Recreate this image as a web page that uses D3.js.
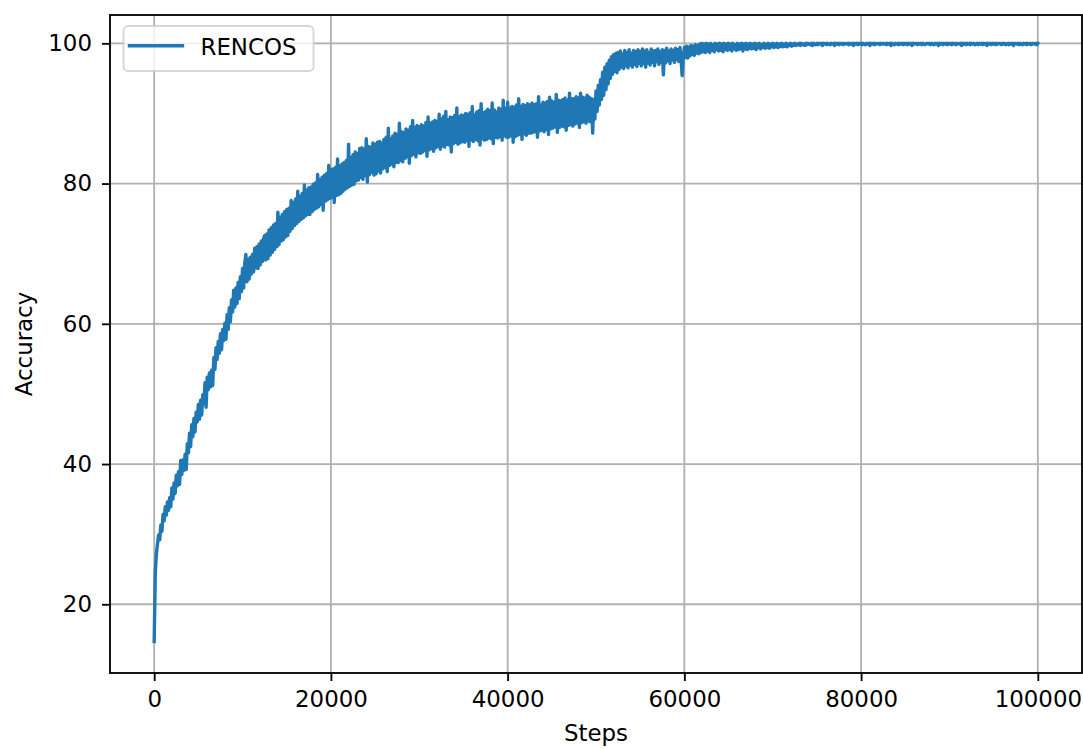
<!DOCTYPE html>
<html>
<head>
<meta charset="utf-8">
<script src="https://cdn.jsdelivr.net/npm/d3@7"></script>
<style>
  html, body { margin: 0; padding: 0; background: #ffffff; }
  svg { display: block; font-family: "DejaVu Sans", sans-serif; }
</style>
</head>
<body>
<svg id="chart" width="1083" height="749"></svg>
<script>
// Training accuracy, logged every 125 steps
const logInterval = 125;
const seriesName = "RENCOS";
const xTicks = [0, 20000, 40000, 60000, 80000, 100000];
const yTicks = [20, 40, 60, 80, 100];
const xLabel = "Steps";
const yLabel = "Accuracy";

const accuracy = [
  14.7, 24.5, 27.2, 28.6, 29.9, 29.2, 31.3, 30.4, 32.8, 31.9, 33.9, 32.7, 34.6, 33.4, 35.2, 33.9, 36.6, 35.0, 37.3, 35.8,
  38.4, 36.9, 38.9, 37.1, 40.5, 38.5, 40.6, 39.1, 41.4, 39.2, 42.9, 41.6, 44.4, 42.5, 45.6, 43.9, 46.5, 44.6, 47.4, 46.0,
  48.5, 46.4, 49.1, 47.0, 49.9, 48.6, 51.6, 48.1, 52.4, 50.6, 53.0, 51.0, 53.4, 51.2, 55.2, 53.5, 56.6, 54.9, 57.5, 55.8,
  58.6, 56.3, 59.2, 57.6, 60.1, 57.8, 61.3, 59.2, 62.3, 60.3, 63.4, 61.7, 64.8, 62.4, 65.1, 62.9, 65.9, 63.6, 66.7, 64.6,
  67.9, 65.1, 68.6, 69.9, 66.0, 69.2, 66.4, 69.5, 67.1, 69.9, 67.4, 70.8, 68.0, 71.0, 67.9, 71.4, 68.4, 71.8, 68.9, 72.1,
  72.6, 69.1, 72.8, 69.3, 73.4, 69.8, 73.7, 70.2, 74.1, 70.6, 74.3, 71.0, 75.9, 71.3, 75.2, 71.8, 75.6, 72.0, 76.0, 72.4,
  76.3, 72.6, 76.5, 73.2, 77.6, 73.6, 77.3, 74.0, 77.8, 74.3, 78.9, 74.6, 78.2, 74.9, 78.6, 75.1, 79.8, 75.4, 79.1, 75.6,
  79.4, 75.6, 79.5, 76.0, 79.9, 76.3, 80.1, 76.5, 81.3, 76.7, 80.6, 77.0, 80.9, 76.2, 81.2, 77.5, 81.4, 77.7, 82.6, 77.9,
  82.0, 78.0, 82.1, 77.3, 82.3, 78.3, 83.5, 78.4, 82.5, 78.6, 82.8, 78.9, 83.0, 79.2, 83.3, 79.4, 85.6, 79.6, 83.7, 79.8,
  84.1, 79.9, 84.5, 80.4, 84.3, 80.5, 85.0, 80.9, 85.1, 80.6, 84.9, 81.1, 86.4, 80.2, 85.3, 81.3, 85.2, 81.6, 85.8, 81.2,
  85.6, 81.4, 85.9, 81.8, 86.0, 81.5, 85.8, 82.1, 86.3, 82.3, 86.6, 81.7, 87.9, 82.6, 86.4, 82.8, 86.8, 82.4, 87.2, 83.0,
  87.0, 83.0, 88.6, 83.3, 87.4, 83.1, 87.3, 83.6, 87.8, 83.8, 87.6, 82.9, 88.1, 84.0, 89.0, 84.2, 88.0, 83.8, 88.3, 84.4,
  88.1, 84.3, 88.4, 84.5, 88.2, 84.7, 88.7, 83.9, 89.5, 84.8, 88.6, 85.0, 88.8, 84.6, 89.0, 85.1, 88.9, 85.3, 89.9, 84.9,
  89.2, 85.4, 89.6, 85.2, 90.3, 85.6, 89.1, 85.5, 89.5, 84.5, 89.4, 85.7, 89.7, 85.9, 90.8, 85.6, 89.5, 85.8, 89.8, 86.0,
  89.7, 85.9, 90.0, 86.1, 89.9, 85.3, 90.1, 86.2, 91.0, 86.0, 89.8, 86.3, 90.2, 86.1, 90.4, 85.5, 91.4, 86.4, 90.1, 86.2,
  90.3, 86.3, 90.6, 86.5, 90.4, 86.4, 91.5, 85.7, 90.5, 86.6, 90.2, 86.5, 90.8, 86.7, 90.6, 86.2, 91.9, 86.8, 90.7, 86.6,
  91.6, 86.6, 90.8, 86.8, 91.0, 85.9, 90.9, 86.7, 91.2, 86.9, 92.1, 87.0, 91.0, 86.3, 91.3, 87.1, 91.1, 86.9, 91.4, 87.2,
  91.2, 87.2, 91.5, 87.3, 91.3, 87.4, 91.4, 86.6, 92.4, 87.5, 91.2, 87.6, 91.6, 87.4, 91.5, 87.7, 91.7, 87.0, 92.3, 87.8,
  91.8, 87.9, 91.6, 88.1, 92.7, 87.3, 91.9, 88.0, 91.8, 88.2, 92.0, 88.1, 92.2, 87.6, 91.9, 88.3, 92.9, 88.4, 92.1, 88.2,
  92.1, 88.5, 92.4, 88.6, 92.2, 88.0, 92.9, 88.7, 92.3, 88.8, 92.2, 88.6, 92.6, 88.9, 92.3, 88.8, 92.1, 87.2, 92.0, 89.2,
  93.2, 90.3, 94.0, 91.2, 94.8, 92.0, 95.9, 92.6, 96.6, 93.4, 97.1, 94.2, 97.6, 95.0, 98.1, 95.6, 98.4, 96.0, 98.6, 95.8,
  98.7, 96.3, 98.9, 96.6, 98.5, 96.4, 99.0, 96.8, 98.7, 96.5, 99.1, 96.9, 98.6, 96.6, 99.0, 97.0, 98.8, 96.7, 99.1, 97.1,
  98.8, 96.8, 99.2, 97.1, 98.9, 96.6, 99.1, 97.2, 98.7, 96.9, 99.2, 97.3, 98.9, 96.8, 99.0, 97.4, 99.2, 97.0, 98.8, 97.3,
  99.1, 95.5, 99.0, 97.2, 99.3, 97.5, 98.9, 97.1, 99.2, 97.6, 99.0, 97.3, 99.3, 97.7, 99.1, 97.4, 99.4, 97.8, 95.4, 98.0,
  99.4, 98.0, 99.6, 97.9, 99.5, 98.2, 99.7, 98.4, 99.6, 98.3, 99.8, 98.6, 99.7, 98.5, 99.9, 98.7, 100.0, 98.8, 99.9, 98.7,
  100.0, 98.9, 99.9, 98.7, 100.0, 99.0, 99.8, 98.8, 100.0, 99.1, 99.9, 98.9, 100.0, 99.0, 99.9, 98.8, 100.0, 99.1, 99.9, 99.0,
  100.0, 99.1, 99.9, 98.9, 100.0, 99.2, 99.8, 99.0, 100.0, 99.1, 99.9, 99.2, 100.0, 98.9, 99.9, 99.2, 100.0, 99.1, 99.9, 99.3,
  100.0, 99.2, 99.9, 99.3, 100.0, 99.1, 99.9, 99.4, 100.0, 99.2, 99.8, 99.4, 100.0, 99.3, 99.9, 99.4, 100.0, 99.3, 99.9, 99.5,
  100.0, 99.4, 99.9, 99.5, 100.0, 99.4, 99.9, 99.6, 100.0, 99.5, 99.9, 99.6, 100.0, 99.5, 99.9, 99.7, 100.0, 99.6, 99.9, 99.7,
  100.0, 99.7, 99.9, 99.8, 100.0, 99.7, 100.0, 99.8, 99.9, 99.7, 100.0, 99.8, 100.0, 99.9, 99.8, 100.0, 99.7, 100.0, 99.9, 99.8,
  100.0, 99.8, 100.0, 99.9, 100.0, 99.7, 100.0, 99.9, 100.0, 99.8, 100.0, 99.9, 99.8, 100.0, 99.9, 100.0, 99.7, 100.0, 99.9, 100.0,
  99.8, 100.0, 99.9, 100.0, 99.8, 100.0, 100.0, 99.9, 100.0, 99.8, 100.0, 99.9, 100.0, 99.7, 100.0, 99.9, 100.0, 99.8, 100.0, 99.9,
  100.0, 99.8, 100.0, 99.9, 99.8, 100.0, 99.9, 100.0, 99.7, 100.0, 99.9, 100.0, 99.8, 100.0, 99.9, 100.0, 100.0, 99.8, 100.0, 99.9,
  100.0, 99.9, 100.0, 99.8, 100.0, 99.9, 100.0, 99.7, 100.0, 99.9, 99.8, 100.0, 99.9, 100.0, 99.8, 100.0, 99.9, 100.0, 99.8, 100.0,
  99.9, 100.0, 99.8, 100.0, 99.9, 100.0, 99.7, 100.0, 99.9, 100.0, 100.0, 99.8, 100.0, 99.9, 100.0, 99.8, 100.0, 99.9, 99.8, 100.0,
  100.0, 99.9, 100.0, 99.8, 100.0, 99.9, 99.8, 100.0, 99.9, 100.0, 99.7, 100.0, 99.9, 100.0, 99.8, 100.0, 99.9, 100.0, 99.8, 100.0,
  99.9, 100.0, 99.8, 100.0, 99.9, 100.0, 99.8, 100.0, 100.0, 99.9, 100.0, 99.7, 100.0, 99.9, 100.0, 99.8, 100.0, 99.9, 100.0, 99.8,
  100.0, 99.9, 100.0, 99.8, 99.9, 100.0, 99.8, 100.0, 99.9, 100.0, 99.8, 100.0, 99.9, 100.0, 99.7, 100.0, 99.9, 100.0, 99.8, 100.0,
  99.9, 100.0, 99.8, 100.0, 99.9, 100.0, 100.0, 99.8, 100.0, 99.9, 100.0, 99.8, 99.9, 100.0, 99.8, 100.0, 99.9, 100.0, 99.7, 100.0,
  100.0, 99.9, 100.0, 99.8, 100.0, 99.9, 99.8, 100.0, 99.9, 100.0, 99.8, 100.0, 99.9, 100.0, 99.8, 100.0, 100.0, 99.9, 100.0, 99.8,
  100.0
];

const points = accuracy.map((v, i) => ({ step: i * logInterval, acc: v }));

const svg = d3.select("#chart");
const plot = { left: 110, right: 1082, top: 15, bottom: 673 };

const x = d3.scaleLinear().domain([-5000, 105000]).range([plot.left, plot.right]);
const y = d3.scaleLinear().domain([10.2, 104.04]).range([plot.bottom, plot.top]);

const fontSize = 22.9;
const lw = 1.83;

// grid
const grid = svg.append("g").attr("class", "grid");
grid.selectAll("line.gx").data(xTicks).join("line")
  .attr("x1", d => x(d)).attr("x2", d => x(d))
  .attr("y1", plot.top).attr("y2", plot.bottom)
  .attr("stroke", "#b0b0b0").attr("stroke-width", lw);
grid.selectAll("line.gy").data(yTicks).join("line")
  .attr("x1", plot.left).attr("x2", plot.right)
  .attr("y1", d => y(d)).attr("y2", d => y(d))
  .attr("stroke", "#b0b0b0").attr("stroke-width", lw);

// series
const line = d3.line().x(d => x(d.step)).y(d => y(d.acc));
svg.append("path")
  .datum(points)
  .attr("d", line)
  .attr("fill", "none")
  .attr("stroke", "#1f77b4")
  .attr("stroke-width", 3.4)
  .attr("stroke-linejoin", "round")
  .attr("stroke-linecap", "square");

// axes
const xAxis = svg.append("g")
  .attr("transform", `translate(0,${plot.bottom})`)
  .call(d3.axisBottom(x).tickValues(xTicks).tickFormat(d3.format("d")).tickSize(8).tickPadding(10));
const yAxis = svg.append("g")
  .attr("transform", `translate(${plot.left},0)`)
  .call(d3.axisLeft(y).tickValues(yTicks).tickFormat(d3.format("d")).tickSize(8).tickPadding(10));

[xAxis, yAxis].forEach(g => {
  g.select(".domain").remove();
  g.selectAll(".tick line").attr("stroke", "#000").attr("stroke-width", lw);
  g.selectAll(".tick text")
    .attr("fill", "#000")
    .style("font-family", "'DejaVu Sans', sans-serif")
    .style("font-size", fontSize + "px");
});

// frame
svg.append("rect")
  .attr("x", plot.left).attr("y", plot.top)
  .attr("width", plot.right - plot.left).attr("height", plot.bottom - plot.top)
  .attr("fill", "none").attr("stroke", "#000").attr("stroke-width", lw);

// axis labels
svg.append("text")
  .attr("x", (plot.left + plot.right) / 2).attr("y", 741)
  .attr("text-anchor", "middle")
  .style("font-size", fontSize + "px")
  .text(xLabel);
svg.append("text")
  .attr("transform", `translate(32,${(plot.top + plot.bottom) / 2}) rotate(-90)`)
  .attr("text-anchor", "middle")
  .style("font-size", fontSize + "px")
  .text(yLabel);

// legend
const legend = svg.append("g");
legend.append("rect")
  .attr("x", 123.5).attr("y", 26).attr("width", 190).attr("height", 45)
  .attr("rx", 4.6).attr("ry", 4.6)
  .attr("fill", "#ffffff").attr("fill-opacity", 0.8)
  .attr("stroke", "#cccccc").attr("stroke-opacity", 0.8).attr("stroke-width", lw);
legend.append("line")
  .attr("x1", 129.5).attr("x2", 182.5).attr("y1", 45.7).attr("y2", 45.7)
  .attr("stroke", "#1f77b4").attr("stroke-width", 3.4).attr("stroke-linecap", "square");
legend.append("text")
  .attr("x", 200.5).attr("y", 54.5)
  .style("font-size", fontSize + "px")
  .text(seriesName);
</script>
</body>
</html>
